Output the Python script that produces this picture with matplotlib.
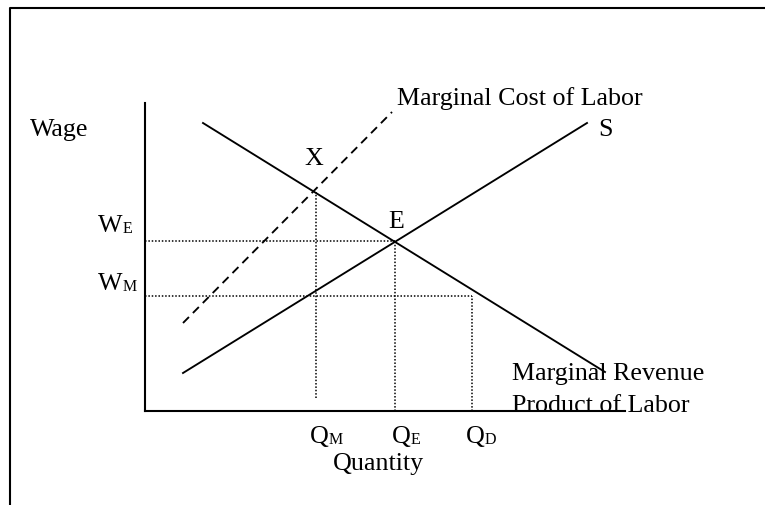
import matplotlib
matplotlib.use('Agg')
import matplotlib.pyplot as plt
from matplotlib.lines import Line2D

# Curvas do diagrama (unidades arbitrárias: quantidade x salário)
supply_q = [38, 442]
supply_w = [38, 288]
mrp_q = [58, 460]
mrp_w = [288, 39]
mcl_q = [38, 247]
mcl_w = [88, 299]

# Pontos de referência
Q_M, Q_E, Q_D = 171, 250, 327
W_E, W_M = 170, 115
W_X = 219
q_m_bottom = 13

plt.rcParams['font.family'] = ['Liberation Serif', 'DejaVu Serif']
fs = 18.7      # ~26 px
fs_sub = 11.5  # ~16 px

fig = plt.figure(figsize=(7.65, 5.06), dpi=100)
ax = fig.add_axes([145 / 765, 94 / 506, 480 / 765, 308 / 506])
ax.set_xlim(0, 480)
ax.set_ylim(0, 308)
ax.spines['top'].set_visible(False)
ax.spines['right'].set_visible(False)
ax.spines['left'].set_linewidth(1.5)
ax.spines['bottom'].set_linewidth(1.5)
ax.set_xticks([])
ax.set_yticks([])

# Moldura (esquerda e topo)
fig.add_artist(Line2D([10 / 765, 10 / 765, 1], [0, 1 - 9 / 506, 1 - 9 / 506],
                      transform=fig.transFigure, color='black', lw=1.5))

# Curvas
ax.plot(supply_q, supply_w, color='black', lw=1.35, clip_on=False)
ax.plot(mrp_q, mrp_w, color='black', lw=1.35, clip_on=False)
ax.plot(mcl_q, mcl_w, color='black', lw=1.35, linestyle=(0, (4.5, 3)), clip_on=False)

# Linhas pontilhadas
dot = dict(color='black', lw=1.1, linestyle=(0, (1, 1.2)))
ax.plot([0, Q_E], [W_E, W_E], **dot)
ax.plot([0, Q_D], [W_M, W_M], **dot)
ax.plot([Q_M, Q_M], [q_m_bottom, W_X], **dot)
ax.plot([Q_E, Q_E], [0, W_E], **dot)
ax.plot([Q_D, Q_D], [0, W_M], **dot)


def sublabel(x, y, main, sub):
    t = ax.text(x, y, main, fontsize=fs, va='baseline', ha='left', clip_on=False)
    ax.annotate(sub, xy=(1, 0), xycoords=t, fontsize=fs_sub, va='bottom', ha='left')


# Textos
ax.text(-115, 276, 'Wage', fontsize=fs, va='baseline', ha='left')
ax.text(252, 307, 'Marginal Cost of Labor', fontsize=fs, va='baseline', ha='left')
ax.text(453, 276, 'S', fontsize=fs, va='baseline', ha='left')
ax.text(169, 247, 'X', fontsize=fs, va='baseline', ha='center')
ax.text(243, 184, 'E', fontsize=fs, va='baseline', ha='left')
sublabel(-47, 180, 'W', 'E')
sublabel(-47, 122, 'W', 'M')
sublabel(165, -31, 'Q', 'M')
sublabel(247, -31, 'Q', 'E')
sublabel(321, -31, 'Q', 'D')
ax.text(188, -58, 'Quantity', fontsize=fs, va='baseline', ha='left')
ax.text(367, 32, 'Marginal Revenue', fontsize=fs, va='baseline', ha='left')
ax.text(367, 0, 'Product of Labor', fontsize=fs, va='baseline', ha='left')

plt.savefig('out.png', dpi=100)
